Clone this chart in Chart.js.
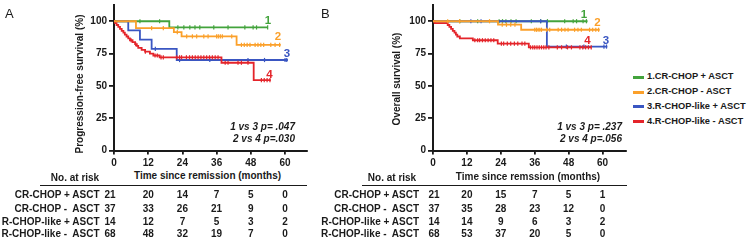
<!DOCTYPE html>
<html>
<head>
<meta charset="utf-8">
<script src="https://cdn.jsdelivr.net/npm/chart.js@4.4.1/dist/chart.umd.min.js"></script>
<style>
  body { margin: 0; background: #fff; font-family: Arial, "Liberation Sans", sans-serif; color: #222; }
  #wrap { position: relative; width: 748px; height: 241px; overflow: hidden; }
  canvas { position: absolute; top: 0; }
  .t { position: absolute; white-space: pre; line-height: 1; }
</style>
</head>
<body>
<div id="wrap">
  <canvas id="pfs" width="320" height="170" style="left:0"></canvas>
  <canvas id="os" width="320" height="170" style="left:319px"></canvas>
</div>
<script>
// groups / legend
const groups = ['1.CR-CHOP + ASCT', '2.CR-CHOP - ASCT', '3.R-CHOP-like + ASCT', '4.R-CHOP-like - ASCT'];
const riskRows = ['CR-CHOP + ASCT', 'CR-CHOP -  ASCT', 'R-CHOP-like + ASCT', 'R-CHOP-like -  ASCT'];
const riskTimes = [0, 12, 24, 36, 48, 60];
const yTicks = [0, 25, 50, 75, 100];
const colors = ['#43a33c', '#fba02a', '#3a56c2', '#e4242a'];

// A: progression-free survival (step times / survival %, censor times)
const pfsT1 = [0, 19.4, 54];
const pfsS1 = [100, 95.2, 95.2];
const pfsC1 = [9.1, 16, 22.4, 24.5, 26.6, 28.4, 30.1, 35, 40, 45.9, 48.8, 50, 53.9];
const pfsT2 = [0, 7.7, 21, 23.7, 43, 58.5];
const pfsS2 = [100, 94.6, 91.5, 88.3, 81.7, 81.7];
const pfsC2 = [13.2, 17.3, 22.2, 25.5, 27.5, 29, 31.5, 33, 36, 36.6, 37.3, 38, 41.3, 44.7, 45.7, 46.7, 47.7, 49.5, 50.5, 51.5, 52.5, 55, 56.5, 58.1];
const pfsT3 = [0, 5, 9.1, 13.2, 22, 61];
const pfsS3 = [100, 92.9, 85.7, 78.6, 70, 70];
const pfsC3 = [14.5, 23, 33.6, 47, 52.8, 60, 60.6];
const pfsT4 = [0, 0.4, 0.9, 1.5, 2.1, 2.7, 3.3, 3.8, 4.4, 5, 5.6, 6.5, 7.4, 8, 8.5, 9.7, 10.9, 12.6, 13.8, 16, 37.7, 49, 55];
const pfsS4 = [100, 98.5, 97.1, 95.6, 94.1, 92.6, 91.2, 89.7, 88.2, 86.8, 85.3, 83.8, 82.3, 80.9, 79.4, 77.9, 76.5, 75, 73.5, 72.1, 67.9, 54.4, 54.4];
const pfsC4 = [6, 7.6, 11, 14.4, 15.2, 16.5, 17.3, 22, 23, 23.7, 25.4, 26.5, 27.5, 28.5, 29.5, 30.5, 31.5, 32.5, 33.5, 34.5, 35.5, 36.5, 39, 40, 43.5, 44.7, 47, 51.7, 52.7, 53.7, 54.7];

// B: overall survival
const osT1 = [0, 54.7];
const osS1 = [100, 100];
const osC1 = [9.5, 15.8, 23.4, 24.6, 25.8, 27.6, 29.4, 34.8, 38.1, 40.5, 46.6, 49.6, 50.8, 53.1, 54.3];
const osT2 = [0, 23, 31.2, 59];
const osS2 = [100, 97.3, 93.4, 93.4];
const osC2 = [5.2, 9.4, 20, 24.5, 26, 27.5, 29, 36, 36.6, 37.2, 37.8, 38.4, 40.2, 41.3, 44.3, 45.5, 46.7, 47.8, 50.1, 51.3, 52.5, 55.4, 56.5, 57.6, 58.6];
const osT3 = [0, 40.3, 61.7];
const osS3 = [100, 80.4, 80.4];
const osC3 = [13.4, 17, 38.1, 47.2, 53.4, 60.5, 61.4];
const osT4 = [0, 0.6, 5.2, 5.8, 6.4, 7, 7.6, 8.1, 8.6, 9.5, 14.1, 22.9, 33.9, 56];
const osS4 = [100, 98.5, 97.1, 95.6, 94.1, 92.6, 91.2, 89.7, 88.2, 86.8, 85.3, 82.7, 79.8, 79.8];
const osC4 = [14.8, 15.8, 16.5, 17.5, 18.5, 19.5, 20.5, 21.5, 24.2, 25, 26.3, 27.5, 28.8, 30, 31.5, 32.5, 34.5, 35.3, 36, 36.8, 37.6, 38.4, 39.2, 40, 41, 44, 45.5, 47.6, 49, 52, 53, 54, 55, 56];

// numbers at risk
const pfsRisk1 = [21, 20, 14, 7, 5, 0];
const pfsRisk2 = [37, 33, 26, 21, 9, 0];
const pfsRisk3 = [14, 12, 7, 5, 3, 2];
const pfsRisk4 = [68, 48, 32, 19, 7, 0];
const osRisk1 = [21, 20, 15, 7, 5, 1];
const osRisk2 = [37, 35, 28, 23, 12, 0];
const osRisk3 = [14, 14, 9, 6, 3, 2];
const osRisk4 = [68, 53, 37, 20, 5, 0];

const FONT = 'Arial, "Liberation Sans", sans-serif';
const wrap = document.getElementById('wrap');

function put(x, y, str, o = {}) {
  const d = document.createElement('div');
  d.className = 't';
  d.textContent = str;
  const tx = o.align === 'center' ? '-50%' : o.align === 'right' ? '-100%' : '0';
  d.style.left = x + 'px';
  d.style.top = y + 'px';
  d.style.fontSize = (o.size || 10) + 'px';
  d.style.fontWeight = o.weight || 'bold';
  d.style.fontStyle = o.style || 'normal';
  d.style.color = o.color || '#1a1a1a';
  d.style.transform = `translate(${tx},-50%)` + (o.rot ? ` rotate(${o.rot}deg)` : '');
  wrap.appendChild(d);
  return d;
}
function box(x, y, w, h, c) {
  const d = document.createElement('div');
  Object.assign(d.style, { position: 'absolute', left: x + 'px', top: y + 'px', width: w + 'px', height: h + 'px', background: c });
  wrap.appendChild(d);
}

function survAt(T, S, t) {
  let v = S[0];
  for (let i = 0; i < T.length; i++) if (T[i] <= t) v = S[i];
  return v;
}

// orange on top, then red, blue, green
const drawOrder = [3, 0, 2, 1];

function curveSets(curves) {
  const sets = [];
  curves.forEach(([T, S, C], i) => {
    sets.push({
      data: T.map((t, k) => ({ x: t, y: S[k] })),
      borderColor: colors[i], borderWidth: 1.8, stepped: true,
      pointRadius: 0, fill: false, order: drawOrder[i], clip: false
    });
    sets.push({
      data: C.map(t => ({ x: t, y: survAt(T, S, t) })),
      showLine: false, pointStyle: 'line', pointRotation: 90, pointRadius: 2.1,
      pointBorderColor: colors[i], pointBorderWidth: 1.2, pointBackgroundColor: colors[i],
      order: drawOrder[i], clip: false
    });
  });
  return sets;
}

const axisGrid = { display: true, drawOnChartArea: false, drawTicks: true, color: '#1a1a1a', lineWidth: 1.8 };
const tickFont = { family: FONT, size: 10, weight: 'bold' };

function makeChart(id, curves, xMax) {
  return new Chart(document.getElementById(id), {
    type: 'line',
    data: { datasets: curveSets(curves) },
    options: {
      responsive: false, animation: false, devicePixelRatio: 1,
      layout: { padding: { top: 5, right: 13, left: 0, bottom: 0 } },
      plugins: { legend: { display: false }, tooltip: { enabled: false } },
      scales: {
        x: {
          type: 'linear', min: 0, max: xMax,
          afterBuildTicks: s => { s.ticks = riskTimes.map(v => ({ value: v })); },
          afterFit: s => { s.height = 19.5; s.paddingLeft = 0; s.paddingRight = 0; },
          grid: { ...axisGrid, tickLength: 4 },
          border: { display: true, color: '#1a1a1a', width: 2 },
          ticks: { font: tickFont, color: '#1a1a1a', padding: 3, maxRotation: 0, autoSkip: false }
        },
        y: {
          min: 0, max: 112.4,
          afterBuildTicks: s => { s.ticks = yTicks.map(v => ({ value: v })); },
          afterFit: s => { s.width = 114; s.paddingTop = 0; s.paddingBottom = 0; },
          grid: { ...axisGrid, tickLength: 5 },
          border: { display: true, color: '#1a1a1a', width: 2 },
          ticks: { font: tickFont, color: '#1a1a1a', padding: 2, autoSkip: false }
        }
      }
    }
  });
}

const pfsChart = makeChart('pfs', [[pfsT1, pfsS1, pfsC1], [pfsT2, pfsS2, pfsC2], [pfsT3, pfsS3, pfsC3], [pfsT4, pfsS4, pfsC4]], 67.7);
const osChart = makeChart('os', [[osT1, osS1, osC1], [osT2, osS2, osC2], [osT3, osS3, osC3], [osT4, osS4, osC4]], 68.3);

const rowY = [195, 208.8, 221.8, 234];

function riskTable(chart, offX, labelRight, rows, firstNudge) {
  rows.forEach((vals, r) => {
    put(labelRight, rowY[r], riskRows[r], { size: 10, align: 'right' });
    vals.forEach((v, c) => {
      const px = offX + chart.scales.x.getPixelForValue(riskTimes[c]) + (c === 0 ? firstNudge : 0);
      put(px, rowY[r], String(v), { size: 10, align: 'center' });
    });
  });
}

// panel A texts
put(5, 12.5, 'A', { size: 13, weight: 'normal' });
put(80, 84, 'Progression-free survival (%)', { size: 10, align: 'center', rot: -90 });
put(207.5, 176, 'Time since remission (months)', { size: 10, align: 'center' });
put(295, 127, '1 vs 3 p= .047', { size: 10, align: 'right', style: 'italic' });
put(295, 138.5, '2 vs 4 p=.030', { size: 10, align: 'right', style: 'italic' });
put(268, 21, '1', { size: 11.5, color: colors[0], align: 'center' });
put(278, 36.5, '2', { size: 11.5, color: colors[1], align: 'center' });
put(287, 53.7, '3', { size: 11.5, color: colors[2], align: 'center' });
put(269.5, 74.5, '4', { size: 11.5, color: colors[3], align: 'center' });
put(75, 178, 'No. at risk', { size: 10, align: 'center' });
box(40, 184.5, 267, 1.6, '#1a1a1a');
riskTable(pfsChart, 0, 99.5, [pfsRisk1, pfsRisk2, pfsRisk3, pfsRisk4], -4);

// panel B texts
put(321, 12.5, 'B', { size: 13, weight: 'normal' });
put(397, 79, 'Overall survival (%)', { size: 10, align: 'center', rot: -90 });
put(528, 176.5, 'Time since remssion (months)', { size: 10, align: 'center' });
put(622, 127, '1 vs 3 p= .237', { size: 10, align: 'right', style: 'italic' });
put(622, 138.5, '2 vs 4 p=.056', { size: 10, align: 'right', style: 'italic' });
put(584, 15, '1', { size: 11.5, color: colors[0], align: 'center' });
put(597.5, 23.3, '2', { size: 11.5, color: colors[1], align: 'center' });
put(587.5, 40.7, '4', { size: 11.5, color: colors[3], align: 'center' });
put(606, 40.7, '3', { size: 11.5, color: colors[2], align: 'center' });
put(392, 178, 'No. at risk', { size: 10, align: 'center' });
box(362, 184.5, 265, 1.6, '#1a1a1a');
riskTable(osChart, 319, 419, [osRisk1, osRisk2, osRisk3, osRisk4], 1);

// legend
const legY = [77, 92.3, 106.7, 121.7];
groups.forEach((g, i) => {
  box(633, legY[i] - 1.5, 11, 3, colors[i]);
  put(647, legY[i], g, { size: 9.3 });
});
</script>
</body>
</html>
